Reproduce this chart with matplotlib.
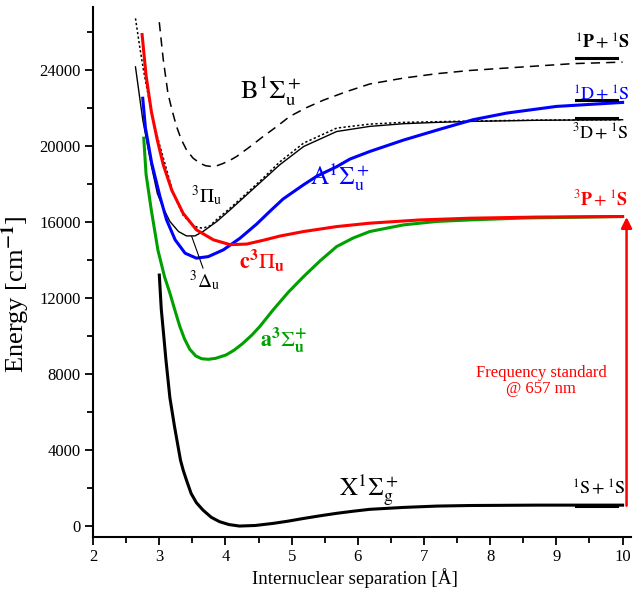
"""
Sr2 potential energy curves
"""
import matplotlib
matplotlib.use('Agg')
import matplotlib.pyplot as plt
from matplotlib.ticker import MultipleLocator

plt.rcParams['font.family'] = ['Liberation Serif', 'DejaVu Serif']
plt.rcParams['mathtext.fontset'] = 'stix'

# X 1Sigma_g+
x_X = [3.00, 3.03, 3.07, 3.10, 3.16, 3.23, 3.32, 3.36, 3.41, 3.48, 3.56, 3.66, 3.785, 3.91,
       4.05, 4.21, 4.45, 4.72, 4.95, 5.18, 5.43, 5.68, 5.93, 6.18, 6.69, 7.19, 7.69, 8.70, 10.0]
e_X = [13200, 11400, 9900, 8750, 6750, 5230, 3470, 2950, 2420, 1720, 1230, 840, 460, 230,
       80, 0, 30, 140, 260, 400, 540, 670, 780, 880, 980, 1050, 1080, 1100, 1100]

# a 3Sigma_u+
x_a = [2.765, 2.80, 2.88, 2.98, 3.08, 3.16, 3.24, 3.31, 3.38, 3.46, 3.55, 3.64, 3.74,
       3.85, 4.01, 4.13, 4.26, 4.40, 4.52, 4.72, 4.95, 5.18, 5.43, 5.68, 5.93, 6.18,
       6.69, 7.19, 7.69, 8.50, 10.0]
e_a = [20400, 18500, 16600, 14500, 13100, 12250, 11300, 10500, 9850, 9300, 8950, 8800, 8770,
       8820, 9000, 9250, 9600, 10050, 10500, 11370, 12300, 13120, 13950, 14700, 15150, 15490,
       15840, 16020, 16100, 16200, 16280]

# c 3Pi_u
x_c = [2.74, 2.80, 2.88, 2.97, 3.06, 3.19, 3.36, 3.56, 3.82, 4.07, 4.32, 4.57, 4.82,
       5.18, 5.68, 6.18, 6.94, 7.69, 8.70, 10.0]
e_c = [25850, 23700, 21800, 20300, 19000, 17650, 16450, 15580, 15050, 14800, 14830, 15030, 15250,
       15490, 15750, 15930, 16100, 16190, 16250, 16280]

# A 1Sigma_u+
x_A = [2.75, 2.79, 2.885, 3.01, 3.11, 3.24, 3.39, 3.56, 3.74, 3.97, 4.22, 4.47, 4.67,
       4.87, 5.18, 5.38, 5.68, 5.88, 6.18, 6.69, 7.24, 7.74, 8.25, 9.00, 10.0]
e_A = [22500, 20950, 19090, 17330, 16100, 15050, 14350, 14090, 14170, 14530, 15140, 15880, 16550,
       17200, 17950, 18400, 18900, 19300, 19700, 20300, 20870, 21370, 21720, 22070, 22280]

# 3Delta_u (thin solid)
x_D = [2.64, 2.75, 2.88, 2.97, 3.06, 3.16, 3.29, 3.41, 3.54, 3.66, 3.87, 4.07, 4.32,
       4.57, 4.82, 5.18, 5.68, 6.18, 6.69, 7.19, 7.69, 8.70, 10.0]
e_D = [24150, 21370, 18950, 17500, 16720, 16020, 15490, 15260, 15260, 15490, 16020, 16630, 17420,
       18210, 19000, 19960, 20750, 21020, 21160, 21230, 21280, 21340, 21370]

# 3Pi_u (dotted)
x_P = [2.64, 2.70, 2.76, 2.83, 2.91, 3.00, 3.09, 3.21, 3.36, 3.48, 3.58, 3.66, 3.76,
       3.87, 4.07, 4.32, 4.57, 4.82, 5.18, 5.68, 6.18, 6.69, 7.69, 8.70, 10.0]
e_P = [26700, 25300, 24000, 22700, 21300, 20100, 19000, 17500, 16350, 15900, 15700, 15670, 15780,
       16130, 16720, 17500, 18300, 19150, 20140, 20930, 21140, 21230, 21300, 21350, 21370]

# B 1Sigma_u+ (dashed)
x_B = [3.00, 3.03, 3.06, 3.13, 3.19, 3.26, 3.33, 3.41, 3.51, 3.61, 3.70, 3.79, 3.87,
       3.95, 4.06, 4.17, 4.37, 4.57, 4.77, 4.97, 5.22, 5.48, 5.83, 6.18, 6.69, 7.19,
       7.69, 8.25, 9.25, 10.0]
e_B = [26500, 25500, 24530, 22770, 21900, 21020, 20350, 19790, 19350, 19090, 18950, 18910, 18950,
       19050, 19220, 19440, 19950, 20490, 21000, 21540, 22000, 22400, 22850, 23250, 23560, 23790,
       23960, 24090, 24320, 24400]

# atomic asymptotes (short bars)
limit_e = [24600, 22420, 21440, 1070]
limit_x = (9.30, 9.92)

fig = plt.figure(figsize=(6.33, 5.96), dpi=100)
ax = fig.add_axes([0.1471, 0.0995, 0.849, 0.8888])

ax.plot(x_B, e_B, color='black', lw=1.1, ls=(0, (6, 4)))
ax.plot(x_P, e_P, color='black', lw=1.1, ls=(0, (1.5, 1.5)))
ax.plot(x_D, e_D, color='black', lw=1.0)
ax.plot(x_a, e_a, color='#00a000', lw=2.2)
ax.plot(x_A, e_A, color='blue', lw=2.2)
ax.plot(x_c, e_c, color='red', lw=2.2)
ax.plot(x_X, e_X, color='black', lw=2.2)

for e in limit_e:
    ax.plot(limit_x, [e, e], color='black', lw=2.2)

# 3Delta_u pointer
ax.plot([3.49, 3.66], [15230, 13570], color='black', lw=0.8)

# frequency standard arrow
ax.annotate('', xy=(10.06, 16250), xytext=(10.06, 1070),
            arrowprops=dict(arrowstyle='-|>', color='red', lw=1.8,
                            mutation_scale=16, shrinkA=0, shrinkB=0))
ax.text(8.77, 7630, 'Frequency standard\n@ 657 nm', color='red', fontsize=12,
        ha='center', va='center', linespacing=0.95)

# state labels
ax.text(4.69, 22890, r'$\mathrm{B}^1\Sigma_\mathrm{u}^+$', fontsize=19, ha='center', va='center')
ax.text(3.71, 17370, r'$^3\Pi_\mathrm{u}$', fontsize=14, ha='center', va='center')
ax.text(3.69, 12900, r'$^3\Delta_\mathrm{u}$', fontsize=14, ha='center', va='center')
ax.text(5.73, 18370, r'$\mathrm{A}^1\Sigma_\mathrm{u}^+$', fontsize=18, color='blue',
        ha='center', va='center')
ax.text(4.55, 13950, r'$\mathbf{c}^\mathbf{3}\Pi_\mathbf{u}$', fontsize=16, color='red',
        ha='center', va='center')
ax.text(4.87, 9790, r'$\mathbf{a}^\mathbf{3}\Sigma_\mathbf{u}^\mathbf{+}$', fontsize=16,
        color='#00a000', ha='center', va='center')
ax.text(6.17, 1900, r'$\mathrm{X}^1\Sigma_\mathrm{g}^+$', fontsize=18, ha='center', va='center')

# asymptote labels
ax.text(9.70, 25420, r'${}^1\mathbf{P}+{}^1\mathbf{S}$', fontsize=13, ha='center', va='center')
ax.text(9.67, 22680, r'${}^1\mathrm{D}+{}^1\mathrm{S}$', fontsize=13, color='blue',
        ha='center', va='center')
ax.text(9.66, 20680, r'${}^3\mathrm{D}+{}^1\mathrm{S}$', fontsize=13, ha='center', va='center')
ax.text(9.67, 17160, r'${}^3\mathbf{P}+{}^1\mathbf{S}$', fontsize=13, color='red',
        ha='center', va='center')
ax.text(9.64, 2000, r'${}^1\mathrm{S}+{}^1\mathrm{S}$', fontsize=13, ha='center', va='center')

ax.set_xlim(2, 10.12)
ax.set_ylim(-560, 27300)
ax.set_xticks(range(2, 11))
ax.set_yticks(range(0, 24001, 4000))
ax.xaxis.set_minor_locator(MultipleLocator(0.5))
ax.yaxis.set_minor_locator(MultipleLocator(2000))
ax.tick_params(which='major', direction='out', length=6, width=1.3, labelsize=12, pad=3)
ax.tick_params(which='minor', direction='out', length=4, width=1.3)
for s in ['top', 'right']:
    ax.spines[s].set_visible(False)
for s in ['left', 'bottom']:
    ax.spines[s].set_linewidth(1.5)

ax.set_xlabel('Internuclear separation [Å]', fontsize=13.7)
ax.set_ylabel(r'Energy [cm$^{\mathbf{-1}}$]', fontsize=19)
ax.xaxis.set_label_coords(0.487, -0.060)
ax.yaxis.set_label_coords(-0.113, 0.458)

plt.savefig('out.png', dpi=100)
plt.close()
